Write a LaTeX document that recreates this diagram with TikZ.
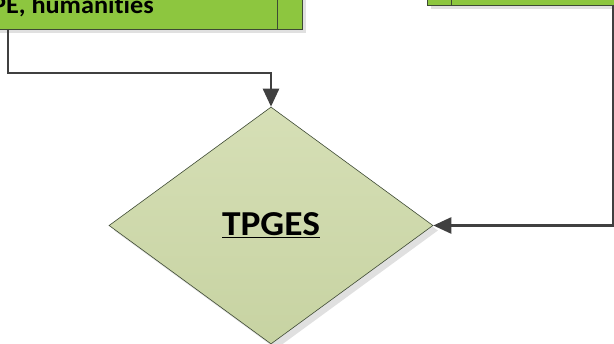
\documentclass[tikz,border=0pt]{standalone}
\usepackage{fontspec}
\setmainfont{Carlito}[Ligatures=NoCommon]
\usetikzlibrary{positioning, arrows.meta, shapes.geometric, shadows}
\definecolor{boxgreen}{HTML}{8DC63F}
\definecolor{boxedge}{HTML}{3E4A34}
\definecolor{diatop}{HTML}{D6DFB6}
\definecolor{diabot}{HTML}{C7D3A2}
\definecolor{connector}{HTML}{404040}

\begin{document}
\begin{tikzpicture}[x=1pt, y=1pt,
        box/.style={rectangle, draw=boxedge, line width=0.8pt, fill=boxgreen, inner sep=0pt,
          drop shadow={shadow xshift=4pt, shadow yshift=-4pt, fill=black!12, opacity=1}},
        dia/.style={diamond, draw=boxedge, line width=0.6pt, inner sep=0pt, top color=diatop, bottom color=diabot,
          minimum width=324pt, minimum height=237pt, font=\bfseries\fontsize{35}{40}\selectfont,
          drop shadow={shadow xshift=5pt, shadow yshift=-5pt, fill=black!12, opacity=1}},
        conn/.style={-{Triangle[length=18pt, width=16pt]}, line width=2.6pt, connector}]
      \useasboundingbox (0,0) rectangle (614,344);
      \clip (0,0) rectangle (614,344);
      % Boxes
      \node[box, minimum width=402pt, minimum height=40pt] (subj) at (101,334.5) {};
      \draw[boxedge, line width=0.8pt] (subj.north west -| 277,0) -- (subj.south west -| 277,0);
      \node[font=\bfseries\fontsize{25}{28}\selectfont, anchor=base east, inner sep=0pt] (subjtext) at (154,330) {\scalebox{1.05}[1]{PE, humanities}};
      \node[box, minimum width=300pt, minimum height=30pt] (other) at (577,354) {};
      \draw[boxedge, line width=0.8pt] (other.north west -| 451,0) -- (other.south west -| 451,0);
      % Decision
      \node[dia] (tpges) at (271,118.5) {\scalebox{1.07}[1]{\underline{TPGES}}};
      % Flow
      \coordinate (lbend) at (8,271);
      \coordinate (rbend) at (613,0);
      \draw[conn] (subj.south -| lbend) -- (lbend) -| (tpges.north);
      \draw[conn] (other.south -| rbend) |- (tpges.east);
    \end{tikzpicture}
\end{document}
